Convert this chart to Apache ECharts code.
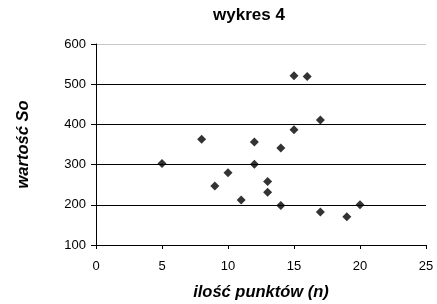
<!DOCTYPE html>
<html>
<head>
<meta charset="utf-8">
<script src="https://cdn.jsdelivr.net/npm/echarts@6/dist/echarts.min.js"></script>
<style>
  html, body { margin: 0; padding: 0; background: #fff; }
  #chart { width: 437px; height: 304px; }
</style>
</head>
<body>
<div id="chart"></div>
<script>
// ── Data ──────────────────────────────────────────────────────────────────────
const nPoints = [5, 8, 9, 10, 11, 12, 12, 13, 13, 14, 14, 15, 15, 16, 17, 17, 19, 20];
const soValues = [303, 363, 247, 280, 212, 356, 301, 258, 231, 341, 198, 521, 387, 519, 411, 182, 170, 200];

const xTicks = [0, 5, 10, 15, 20, 25];
const yTicks = [100, 200, 300, 400, 500, 600];

// ── Chart ─────────────────────────────────────────────────────────────────────
const chart = echarts.init(document.getElementById('chart'), null, { renderer: 'canvas' });
const font = '"Liberation Sans", Arial, sans-serif';

chart.setOption({
  animation: false,
  backgroundColor: '#fff',
  title: {
    text: 'wykres 4',
    left: 244, top: 2,
    textAlign: 'center',
    textStyle: { fontFamily: font, fontSize: 17, fontWeight: 'bold', color: '#000' },
  },
  grid: {
    left: 96, right: 11, top: 44, bottom: 59,
    containLabel: false,
    outerBoundsMode: 'none',
  },
  xAxis: {
    type: 'value',
    min: xTicks[0], max: xTicks[xTicks.length - 1], interval: 5,
    name: 'ilość punktów (n)',
    nameLocation: 'middle', nameGap: 39,
    nameTextStyle: { fontFamily: font, fontSize: 16.5, fontWeight: 'bold', fontStyle: 'italic', color: '#000' },
    axisLine: { lineStyle: { color: '#000', width: 1 } },
    axisTick: { show: true, length: 4, lineStyle: { color: '#000' } },
    axisLabel: { fontFamily: font, fontSize: 13, color: '#000', margin: 15 },
    splitLine: { show: false },
  },
  yAxis: {
    type: 'value',
    min: yTicks[0], max: yTicks[yTicks.length - 1], interval: 100,
    name: 'wartość So',
    nameLocation: 'middle', nameGap: 64,
    nameTextStyle: { fontFamily: font, fontSize: 16.5, fontWeight: 'bold', fontStyle: 'italic', color: '#000' },
    axisLine: { show: true, lineStyle: { color: '#000', width: 1 } },
    axisTick: { show: true, length: 5, lineStyle: { color: '#000' } },
    axisLabel: { fontFamily: font, fontSize: 13, color: '#000', margin: 10 },
    splitLine: {
      show: true,
      lineStyle: { color: ['#000', '#000', '#000', '#000', '#000', '#c8c8c8'], width: 1 },
    },
  },
  series: [{
    type: 'scatter',
    data: nPoints.map((n, i) => [n, soValues[i]]),
    symbol: 'diamond',
    symbolSize: 9,
    itemStyle: { color: '#000' },
  }],
});
</script>
</body>
</html>
